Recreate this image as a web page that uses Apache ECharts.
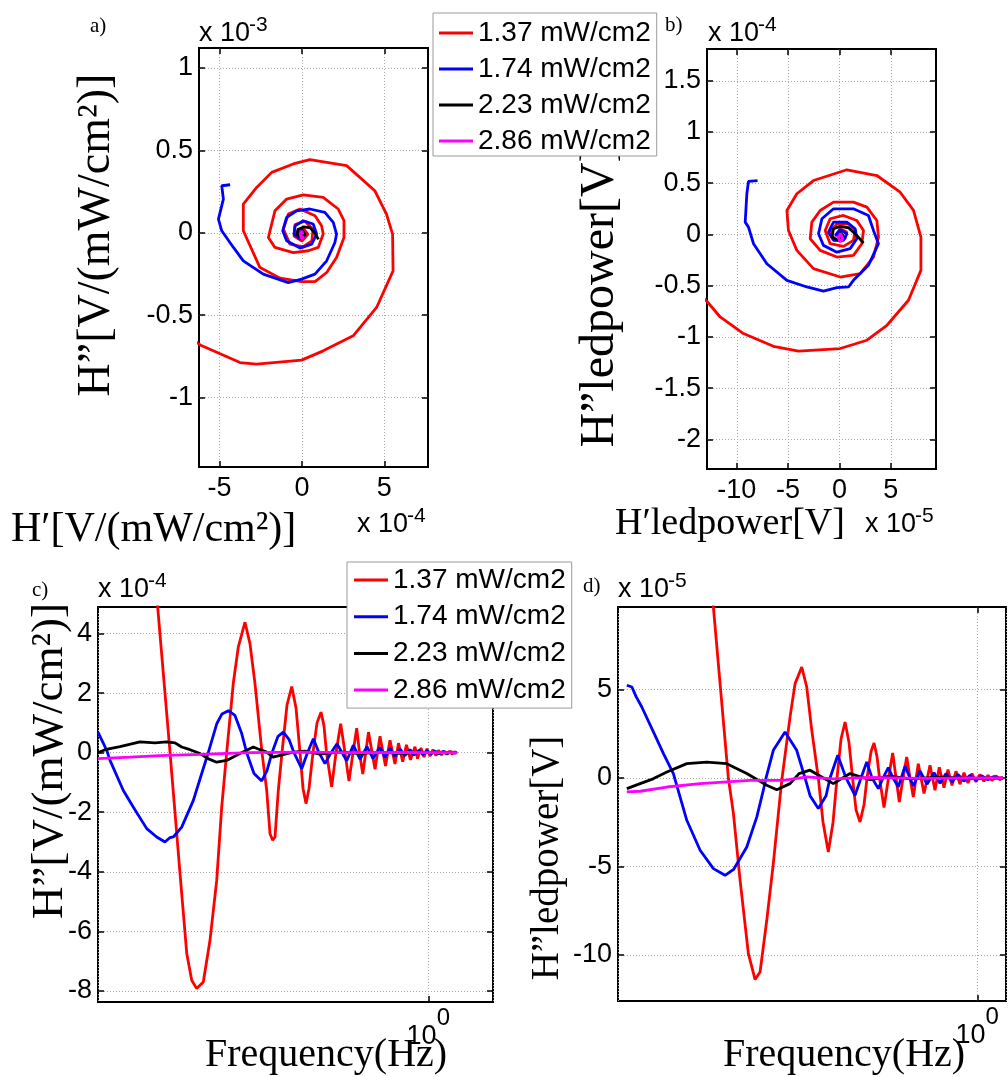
<!DOCTYPE html>
<html><head><meta charset="utf-8">
<script src="https://cdn.jsdelivr.net/npm/echarts@6/dist/echarts.min.js"></script>
<style>html,body{margin:0;padding:0;background:#fff}#c{width:1008px;height:1077px}</style>
</head><body><div id="c"></div>
<script>
// ---------------- DATA ----------------
const seriesNames = ['1.37 mW/cm2','1.74 mW/cm2','2.23 mW/cm2','2.86 mW/cm2'];
const colors = ['#ff0000','#0000ff','#000000','#ff00ff'];

// Panel a: [H' (x1e-4), H'' (x1e-3)]
const a_red = [[-7.0,-0.62],[-6.18,-0.68],[-3.76,-0.787],[-2.75,-0.797],[-0.02,-0.772],[1.29,-0.716],[3.11,-0.625],[4.53,-0.453],[5.53,-0.231],[5.50,-0.008],[5.13,0.113],[4.42,0.255],[2.71,0.407],[0.48,0.443],[-0.53,0.417],[-1.84,0.366],[-2.75,0.275],[-3.56,0.174],[-3.56,0.012],[-2.55,-0.211],[-1.33,-0.275],[-0.02,-0.296],[0.79,-0.296],[1.50,-0.241],[2.10,-0.150],[2.55,-0.029],[2.55,0.073],[2.20,0.144],[1.29,0.214],[0.08,0.229],[-0.93,0.204],[-1.64,0.133],[-2.04,-0.029],[-1.64,-0.089],[-0.53,-0.120],[0.38,-0.109],[0.99,-0.089],[1.29,-0.008],[1.19,0.042],[0.79,0.103],[-0.12,0.144],[-0.83,0.113],[-1.13,0.022],[-0.73,-0.069],[0.08,-0.085],[0.6,-0.05],[0.67,0.02],[0.18,0.07],[-0.42,0.05],[-0.48,-0.02],[0,-0.05],[0.36,-0.01],[0.06,0.03],[-0.2,0.0],[0,-0.02],[0.1,0]];
const a_blue = [[-4.36,0.291],[-4.87,0.285],[-4.77,0.204],[-5.07,0.083],[-4.87,0.012],[-4.16,-0.089],[-3.56,-0.170],[-2.35,-0.251],[-0.83,-0.302],[-0.02,-0.281],[0.79,-0.251],[1.50,-0.170],[2.0,-0.059],[2.10,-0.008],[1.90,0.063],[1.39,0.123],[0.48,0.144],[-0.32,0.133],[-0.93,0.093],[-1.17,0.012],[-0.93,-0.049],[-0.12,-0.093],[0.59,-0.069],[0.89,-0.008],[0.68,0.053],[0.08,0.073],[-0.42,0.042],[-0.48,-0.008],[-0.12,-0.038],[0.2,-0.01],[0,0.02],[-0.1,0]];
const a_black = [[1.0,-0.04],[0.8,-0.005],[0.5,0.03],[0.1,0.035],[-0.25,0.02],[-0.3,-0.01],[-0.05,-0.03],[0.15,-0.01],[0.05,0.01],[0,0]];
const a_magenta = [[0.1,-0.02],[-0.05,-0.035],[-0.1,-0.005],[0.0,0.01],[0.05,-0.01]];

// Panel b: [H' (x1e-5), H'' (x1e-4)]
const b_red = [[-14,-0.55],[-12.85,-0.66],[-11.62,-0.806],[-9.35,-0.968],[-6.43,-1.092],[-3.99,-1.140],[0.07,-1.114],[2.67,-1.033],[4.62,-0.887],[6.72,-0.643],[7.93,-0.351],[7.93,-0.026],[7.21,0.234],[5.91,0.412],[3.64,0.575],[0.72,0.631],[-2.53,0.526],[-4.15,0.397],[-5.12,0.234],[-4.97,0.039],[-4.15,-0.156],[-2.53,-0.334],[0.07,-0.416],[2.02,-0.383],[3.31,-0.221],[3.80,-0.026],[3.64,0.136],[2.67,0.266],[1.36,0.315],[-0.58,0.315],[-1.88,0.234],[-2.69,0.120],[-2.85,-0.042],[-1.88,-0.156],[-0.25,-0.221],[1.36,-0.205],[2.18,-0.091],[2.34,0.039],[1.69,0.136],[0.39,0.185],[-0.91,0.153],[-1.39,0.039],[-0.91,-0.091],[0.39,-0.117],[1.36,-0.058],[1.53,0.039],[0.88,0.104],[-0.25,0.104],[-0.91,0.022],[-0.42,-0.058],[0.55,-0.042],[0.72,0.022],[0.07,0.055],[-0.3,0.0],[0.1,-0.02]];
const b_blue = [[-7.98,0.526],[-8.86,0.517],[-9.02,0.397],[-9.18,0.120],[-8.86,0.071],[-8.37,-0.091],[-7.07,-0.286],[-5.12,-0.448],[-3.17,-0.513],[-1.56,-0.553],[-0.25,-0.520],[0.88,-0.513],[1.36,-0.448],[2.82,-0.302],[3.64,-0.124],[3.80,-0.091],[3.31,0.039],[2.82,0.185],[1.36,0.250],[-0.58,0.250],[-1.71,0.153],[-2.04,0.007],[-1.56,-0.107],[-0.25,-0.173],[1.04,-0.139],[1.69,-0.042],[1.53,0.055],[0.72,0.120],[-0.58,0.120],[-1.07,0.022],[-0.58,-0.058],[0.39,-0.058],[0.72,0.007],[0.07,0.046],[-0.42,-0.01],[0,0]];
const b_black = [[2.34,-0.085],[1.69,-0.01],[0.88,0.065],[0.07,0.078],[-0.58,0.055],[-0.74,-0.026],[-0.1,-0.058],[0.36,-0.01],[0,0.02]];
const b_magenta = [[-0.2,-0.01],[0.07,-0.075],[0.3,-0.04],[0.1,0.01],[-0.1,-0.03]];

// Panel c: [frequency Hz, H'' (x1e-4)]
const c_red = [[0.1929,9.5],[0.2219,0],[0.2352,-4.06],[0.2446,-6.74],[0.2518,-7.64],[0.2592,-7.92],[0.2694,-7.7],[0.2801,-6.3],[0.2913,-4.28],[0.2999,-1.83],[0.3087,0],[0.3208,2.32],[0.3303,3.54],[0.3435,4.38],[0.3536,3.66],[0.3641,2.32],[0.3793,0],[0.3899,-1.27],[0.3974,-2.72],[0.4037,-2.94],[0.4092,-2.83],[0.4171,-1.27],[0.4262,0],[0.4388,1.6],[0.4511,2.22],[0.4625,1.5],[0.4734,0],[0.4818,-1.2],[0.4902,-1.71],[0.4989,-1.2],[0.5106,0],[0.5227,1.0],[0.5351,1.36],[0.5444,0.9],[0.5524,0],[0.5694,-1.15],[0.5839,0],[0.6001,0.97],[0.6153,0],[0.6298,-0.95],[0.6448,0],[0.6588,0.82],[0.6696,0],[0.6826,-0.72],[0.7057,0.69],[0.7331,-0.56],[0.7546,0.55],[0.7792,-0.45],[0.7998,0.42],[0.8235,-0.38],[0.8406,0.32],[0.8613,-0.3],[0.8805,0.26],[0.9013,-0.24],[0.9254,0.2],[0.9391,-0.2],[0.9583,0.16],[0.9752,-0.15],[0.9924,0.13],[1.0099,-0.12],[1.0278,0.1],[1.0459,-0.1],[1.0612,0.08],[1.0799,-0.08],[1.0957,0.06],[1.1151,-0.06],[1.1317,0.05],[1.1482,-0.05],[1.1650,0.03],[1.1822,-0.02]];
const c_blue = [[0.1458,0.69],[0.1534,0.08],[0.1564,-0.26],[0.1690,-1.27],[0.1792,-1.83],[0.1937,-2.55],[0.2053,-2.83],[0.2154,-3.0],[0.2219,-2.85],[0.2262,-2.83],[0.2375,-2.5],[0.2542,-1.6],[0.2669,-0.7],[0.2773,0],[0.2913,0.97],[0.3004,1.3],[0.3117,1.41],[0.3240,1.25],[0.3370,0.64],[0.3469,0],[0.3620,-0.7],[0.3786,-0.95],[0.3905,-0.6],[0.4021,0],[0.4164,0.55],[0.4294,0.69],[0.4439,0.45],[0.4571,0],[0.4781,-0.54],[0.4945,0],[0.5116,0.47],[0.5288,0],[0.5476,-0.37],[0.5672,0],[0.5874,0.3],[0.6047,0],[0.6215,-0.27],[0.6458,0.25],[0.6716,-0.22],[0.6995,0.2],[0.7245,-0.2],[0.7546,0.18],[0.7770,-0.16],[0.7998,0.15],[0.8235,-0.13],[0.8480,0.12],[0.8730,-0.1],[0.8989,0.1],[0.9201,-0.08],[0.9473,0.08],[0.9696,-0.07],[0.9924,0.07],[1.0158,-0.05],[1.0399,0.05],[1.0644,-0.04],[1.0895,0.04],[1.1151,-0.03],[1.1416,0.03],[1.1685,-0.02],[1.1822,0.02]];
const c_black = [[0.1458,0],[0.1519,0.1],[0.1658,0.2],[0.1862,0.36],[0.2033,0.33],[0.2176,0.36],[0.2284,0.33],[0.2375,0.19],[0.2493,0.1],[0.2643,-0.03],[0.2768,-0.2],[0.2913,-0.32],[0.3087,-0.26],[0.3336,-0.03],[0.3605,0.19],[0.3749,0.1],[0.3899,0.02],[0.4043,-0.15],[0.4552,0.02],[0.4874,0.05],[0.5319,-0.05],[0.5977,0.03],[0.6716,-0.03],[0.7546,0.02],[0.8480,-0.02],[0.9528,0.01],[1.0705,-0.01],[1.1822,0]];
const c_magenta = [[0.1458,-0.2],[0.1757,-0.15],[0.2093,-0.1],[0.2643,-0.06],[0.3536,0],[0.4734,0.02],[0.6339,0],[0.8480,0.01],[1.1822,0]];

// Panel d: [frequency Hz, H'' (x1e-5)]
const d_red = [[0.1908,15],[0.2198,0],[0.2267,-2.0],[0.2361,-5.78],[0.2483,-9.92],[0.2587,-11.39],[0.2666,-10.96],[0.2777,-8.04],[0.2890,-4.84],[0.3011,-1.07],[0.3048,0],[0.3200,3.45],[0.3299,5.33],[0.3436,6.27],[0.3542,5.14],[0.3652,2.69],[0.3801,0],[0.3911,-2.5],[0.4039,-4.18],[0.4157,-2.5],[0.4259,0],[0.4364,2.2],[0.4472,3.16],[0.4581,2.0],[0.4681,0],[0.4781,-1.8],[0.4899,-2.49],[0.5020,-1.5],[0.5112,0],[0.5239,1.5],[0.5335,1.98],[0.5433,1.2],[0.5516,0],[0.5669,-1.67],[0.5825,0],[0.5977,1.41],[0.6099,0],[0.6222,-1.36],[0.6364,0],[0.6509,1.19],[0.6641,0],[0.6775,-1.07],[0.6984,0.81],[0.7232,-0.88],[0.7499,0.72],[0.7731,-0.69],[0.7936,0.6],[0.8166,-0.55],[0.8367,0.48],[0.8574,-0.42],[0.8784,0.38],[0.9001,-0.35],[0.9224,0.3],[0.9450,-0.28],[0.9683,0.25],[0.9921,-0.22],[1.0165,0.2],[1.0416,-0.18],[1.0673,0.15],[1.0935,-0.14],[1.1205,0.12],[1.1482,-0.1],[1.1693,0.05]];
const d_blue = [[0.1185,5.24],[0.1222,5.14],[0.1254,4.6],[0.1298,4.01],[0.1393,2.6],[0.1481,1.38],[0.1573,0.25],[0.1707,-2.39],[0.1851,-4.08],[0.2007,-5.12],[0.2154,-5.5],[0.2221,-5.3],[0.2267,-5.18],[0.2459,-3.9],[0.2614,-2.2],[0.2720,-0.69],[0.2765,0],[0.2890,1.56],[0.3104,2.6],[0.3332,1.56],[0.3505,0],[0.3614,-1.0],[0.3801,-1.73],[0.3984,-1.0],[0.4081,0],[0.4278,1.28],[0.4499,0],[0.4752,-0.98],[0.4928,0],[0.5103,0.9],[0.5270,0],[0.5476,-0.6],[0.5636,0],[0.5819,0.59],[0.5989,0],[0.6185,-0.5],[0.6442,0.66],[0.6775,-0.45],[0.7057,0.4],[0.7365,-0.35],[0.7685,0.3],[0.7971,-0.3],[0.8268,0.25],[0.8574,-0.22],[0.8892,0.2],[0.9224,-0.18],[0.9566,0.15],[0.9921,-0.13],[1.0290,0.12],[1.0673,-0.1],[1.1068,0.08],[1.1482,-0.06],[1.1693,0]];
const d_black = [[0.1185,-0.6],[0.1285,-0.32],[0.1390,-0.05],[0.1512,0.34],[0.1707,0.81],[0.1928,0.9],[0.2177,0.81],[0.2459,0.25],[0.2777,-0.41],[0.2951,-0.66],[0.3200,-0.32],[0.3379,0.25],[0.3614,0.44],[0.3880,0.06],[0.4164,-0.32],[0.4609,0.25],[0.5205,-0.1],[0.5880,0.1],[0.6641,-0.05],[0.7971,0.05],[0.9566,-0.03],[1.1693,0]];
const d_magenta = [[0.1185,-0.79],[0.1285,-0.75],[0.1512,-0.51],[0.1851,-0.32],[0.2509,-0.13],[0.3072,-0.13],[0.3542,0.06],[0.4164,-0.05],[0.5205,0.03],[0.7057,-0.02],[0.9566,0.01],[1.1693,0]];

// Tick values
const a_xticks = [-5,0,5], a_yticks = [-1,-0.5,0,0.5,1];
const b_xticks = [-10,-5,0,5], b_yticks = [-2,-1.5,-1,-0.5,0,0.5,1,1.5];
const c_yticks = [-8,-6,-4,-2,0,2,4];
const d_yticks = [-10,-5,0,5];

// ---------------- CHART ----------------
const SANS = '"Liberation Sans", Arial, sans-serif';
const SERIF = '"Liberation Serif", "Times New Roman", serif';
const TICKFS = 27;

const grids = [
  {left:199, top:48, width:229, height:419},
  {left:707, top:49, width:229, height:420},
  {left:98, top:607, width:395, height:395},
  {left:618, top:607, width:388, height:394}
].map(g => Object.assign(g, {show:true, borderColor:'#000', borderWidth:2, containLabel:false}));

const tickStyle = {color:'#000', width:1.5};
const splitStyle = {color:'#a8a8a8', type:[1,2], width:1};
function fmtNum(v){ return String(Math.round(v*1000)/1000); }

function valPair(gi, dim, min, max, ticks){
  const isX = dim === 'x';
  const main = {
    type:'value', gridIndex:gi, position: isX?'bottom':'left', min, max,
    axisLine:{show:false, onZero:false},
    axisTick:{show:true, inside:true, length:6, lineStyle:tickStyle, customValues:ticks},
    axisLabel:{customValues:ticks, color:'#000', fontSize:TICKFS, fontFamily:SANS, margin: isX?8:6, formatter:fmtNum},
    splitLine:{show:true, lineStyle:splitStyle}
  };
  const sec = {
    type:'value', gridIndex:gi, position: isX?'top':'right', min, max,
    axisLine:{show:false, onZero:false},
    axisTick:{show:true, inside:true, length:6, lineStyle:tickStyle, customValues:ticks},
    axisLabel:{show:false}, splitLine:{show:false}
  };
  return [main, sec];
}
function logPair(gi, min, max){
  const main = {
    type:'log', logBase:10, gridIndex:gi, position:'bottom', min, max,
    axisLine:{show:false, onZero:false},
    axisTick:{show:true, inside:true, length:6, lineStyle:tickStyle},
    axisLabel:{color:'#000', margin:4, showMinLabel:false, showMaxLabel:false,
      formatter: v => Math.abs(v-1) < 1e-6 ? '{b|10}{s|0}' : '',
      rich:{ b:{fontSize:TICKFS, fontFamily:SANS, color:'#000', verticalAlign:'bottom', lineHeight:44},
             s:{fontSize:24, fontFamily:SANS, color:'#000', verticalAlign:'top', lineHeight:24} }},
    splitLine:{show:true, lineStyle:splitStyle}
  };
  const sec = {
    type:'log', logBase:10, gridIndex:gi, position:'top', min, max,
    axisLine:{show:false, onZero:false},
    axisTick:{show:true, inside:true, length:6, lineStyle:tickStyle},
    axisLabel:{show:false}, splitLine:{show:false}
  };
  return [main, sec];
}

const xAxis = [].concat(
  valPair(0,'x',-6.25,7.65,a_xticks),
  valPair(1,'x',-12.9,9.4,b_xticks),
  logPair(2,0.1458,1.4583),
  logPair(3,0.1123,1.191)
);
const yAxis = [].concat(
  valPair(0,'y',-1.42,1.12,a_yticks),
  valPair(1,'y',-2.29,1.81,b_yticks),
  valPair(2,'y',-8.37,4.89,c_yticks),
  valPair(3,'y',-12.6,9.66,d_yticks)
);

const panelData = [
  [a_red,a_blue,a_black,a_magenta],
  [b_red,b_blue,b_black,b_magenta],
  [c_red,c_blue,c_black,c_magenta],
  [d_red,d_blue,d_black,d_magenta]
];
const series = [];
panelData.forEach((sets, p) => {
  sets.forEach((data, k) => {
    series.push({
      type:'line', name:seriesNames[k], xAxisIndex:p*2, yAxisIndex:p*2,
      data, symbol:'none', smooth:false, clip:true, animation:false,
      lineStyle:{color:colors[k], width:2.8}, itemStyle:{color:colors[k]}, z:2+k
    });
  });
});

function legendAt(left, top, pad, gap){
  return {
    show:true, orient:'vertical', left, top, padding:pad, itemGap:gap,
    icon:'rect', itemWidth:34, itemHeight:3, data:seriesNames, selectedMode:false,
    backgroundColor:'#fff', borderColor:'#9a9a9a', borderWidth:1, borderRadius:0,
    textStyle:{fontSize:28, fontFamily:SANS, color:'#000', padding:[0,0,0,0]}, z:10
  };
}

function txt(x, y, text, fs, family, opts){
  return Object.assign({type:'text', x, y, z:1,
    style:Object.assign({text, fontSize:fs, fontFamily:family, fill:'#000', textAlign:'left', textVerticalAlign:'middle'}, opts||{})});
}
function rot(x, y, text, fs){
  return {type:'text', x, y, rotation:Math.PI/2, z:1,
    style:{text, fontSize:fs, fontFamily:SERIF, fill:'#000', textAlign:'center', textVerticalAlign:'middle'}};
}
function expo(x, y, e){
  // "x 10" with superscript exponent
  return [txt(x, y, 'x 10', TICKFS, SANS), txt(x+50, y-9, e, 21, SANS)];
}

const graphic = [].concat(
  [txt(90, 26, 'a)', 21, SERIF), txt(665, 25, 'b)', 21, SERIF), txt(32, 590, 'c)', 21, SERIF), txt(583, 586, 'd)', 21, SERIF)],
  expo(199, 34, '-3'), expo(708, 34, '-4'), expo(357, 525, '-4'), expo(865, 525, '-5'),
  expo(98, 590, '-4'), expo(618, 590, '-5'),
  [txt(11, 530, 'H′[V/(mW/cm²)]', 42, SERIF),
   txt(615, 524, 'H′ledpower[V]', 38, SERIF),
   txt(205, 1055, 'Frequency(Hz)', 40, SERIF),
   txt(723, 1055, 'Frequency(Hz)', 40, SERIF),
   rot(97, 235, 'H”[V/(mW/cm²)]', 46),
   rot(600, 297, 'H”ledpower[V]', 48),
   rot(50, 761, 'H”[V/(mW/cm²)]', 45),
   rot(548, 858, 'H”ledpower[V]', 39)]
);

const chart = echarts.init(document.getElementById('c'), null, {renderer:'canvas', width:1008, height:1077});
chart.setOption({
  backgroundColor:'#fff', animation:false,
  grid:grids, xAxis, yAxis, series,
  legend:[legendAt(433, 13, [6,6,1,6], 8), legendAt(347, 562, [4,6,4,7], 8.7)],
  graphic
});
</script></body></html>
